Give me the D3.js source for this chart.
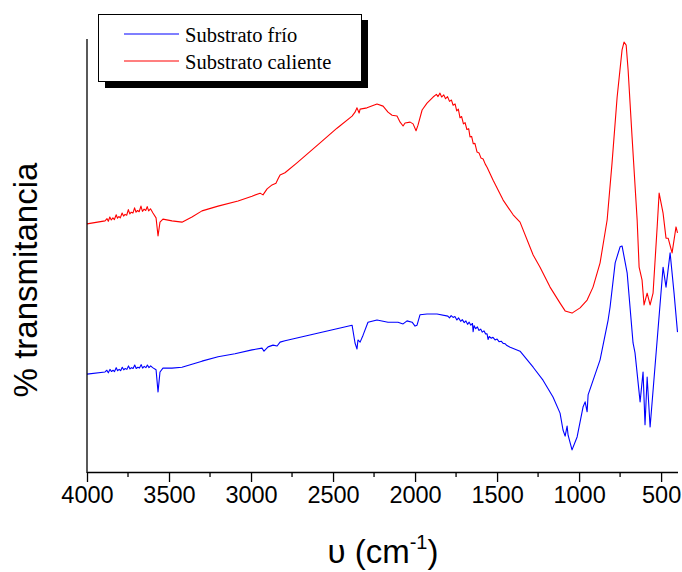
<!DOCTYPE html>
<html><head><meta charset="utf-8">
<script src="https://cdn.jsdelivr.net/npm/d3@7/dist/d3.min.js"></script>
<style>body{margin:0;background:#fff}svg{display:block}</style>
</head><body><svg id="c" width="682" height="572"></svg>
<script>
const seriesNames = ["Substrato frío", "Substrato caliente"];
const seriesColors = ["#0000ff", "#ff0000"];
const xTicks = [4000, 3500, 3000, 2500, 2000, 1500, 1000, 500];
const xMinorTicks = [3750, 3250, 2750, 2250, 1750, 1250, 750];
const xDomain = [4000, 400];
const yDomain = [0, 100];

// [wavenumber, % transmittance (arbitrary offset)]
const coldSeries = [
[4000,22.6],[3890,23.1],[3879,23.5],[3870,22.9],[3860,23.7],[3851,23.2],[3841,23.5],[3832,23.2],[3822,24.1],[3813,23.4],
[3804,23.7],[3795,23.4],[3785,24.2],[3776,23.6],[3767,23.9],[3757,23.7],[3747,24.5],[3738,23.8],[3729,24.1],[3719,23.9],
[3709,24.7],[3700,23.9],[3690,24.2],[3680,24.0],[3670,24.8],[3661,24.0],[3651,24.4],[3641,24.1],[3632,24.7],[3622,24.1],
[3612,24.5],[3600,24.1],[3579,23.6],[3567,18.5],[3555,23.1],[3537,24.0],[3482,24.0],[3421,24.2],
[3360,24.9],[3299,25.6],[3201,26.6],[3098,27.3],[2994,28.2],[2933,28.6],[2921,27.9],[2896,28.9],[2866,29.3],[2841,29.1],
[2823,30.0],[2793,30.3],[2384,33.9],[2366,29.8],[2354,28.4],[2348,30.5],[2335,30.0],[2317,31.6],[2287,34.6],[2232,35.1],
[2165,34.6],[2134,34.6],[2104,34.6],[2073,34.2],[2049,34.9],[2018,34.6],[2000,33.7],[1988,33.9],[1970,36.3],[1927,36.5],
[1866,36.5],[1800,36.0],[1790,35.6],[1780,36.1],[1768,35.7],[1757,35.9],[1745,35.1],[1735,35.6],[1722,34.8],[1712,35.2],
[1700,34.5],[1690,34.9],[1680,34.1],[1670,34.6],[1660,33.9],[1650,34.3],[1646,32.4],[1640,33.8],[1630,33.1],[1620,33.5],
[1610,32.7],[1600,33.0],[1590,32.3],[1580,32.6],[1570,31.9],[1561,31.9],[1555,30.6],[1548,31.3],[1535,30.9],[1525,31.1],
[1512,30.5],[1500,30.7],[1488,30.1],[1475,30.2],[1463,29.7],[1450,29.6],[1440,29.2],[1420,28.8],[1360,27.9],[1280,24.2],
[1220,21.2],[1159,17.3],[1116,13.6],[1098,9.7],[1085,8.3],[1073,10.6],[1067,8.5],[1043,5.1],[1012,8.1],[976,15.0],
[963,16.2],[951,13.9],[945,17.8],[872,25.9],[823,35.1],[811,38.1],[780,48.3],[750,52.0],[738,52.2],[707,46.0],
[671,29.8],[659,27.5],[628,16.2],[610,23.1],[598,10.9],[585,21.9],[567,10.4],[524,30.5],[488,47.3],[470,42.7],
[445,50.6],[421,41.3],[400,32.3]
];
const hotSeries = [
[4000,57.3],[3890,58.0],[3878,58.5],[3870,57.9],[3861,58.9],[3852,58.2],[3842,58.7],[3833,58.3],[3822,59.4],[3814,58.6],
[3806,59.0],[3797,58.7],[3786,59.8],[3777,59.1],[3768,59.5],[3758,59.3],[3748,60.6],[3739,59.6],[3730,60.0],[3720,59.8],
[3710,61.0],[3701,60.0],[3692,60.4],[3682,60.1],[3671,61.4],[3662,60.2],[3652,60.7],[3642,60.4],[3633,61.3],[3624,60.3],
[3613,60.8],[3604,60.2],[3598,59.8],[3579,58.7],[3567,54.5],[3555,57.7],[3537,58.4],[3482,58.0],[3421,57.7],
[3360,58.9],[3299,60.3],[3201,61.4],[3079,62.6],[2994,63.7],[2945,64.4],[2927,64.0],[2902,65.4],[2872,66.3],[2848,66.7],
[2835,67.7],[2823,68.6],[2793,69.1],[2720,71.4],[2579,76.0],[2476,79.4],[2384,82.2],[2366,83.1],[2354,84.1],[2341,82.9],
[2335,83.8],[2293,84.1],[2232,85.0],[2195,84.5],[2165,83.1],[2140,82.4],[2110,82.2],[2091,80.8],[2073,79.9],[2061,80.6],
[2030,80.8],[2012,80.4],[1994,78.8],[1982,80.1],[1957,83.6],[1927,85.2],[1890,86.6],[1870,87.2],[1860,86.7],[1848,87.5],
[1838,86.6],[1825,87.1],[1814,86.2],[1802,86.7],[1790,85.6],[1778,85.9],[1768,84.7],[1756,85.0],[1746,83.4],[1736,83.8],
[1726,81.8],[1716,82.1],[1705,80.4],[1695,80.7],[1684,79.1],[1673,79.3],[1665,77.4],[1655,77.5],[1645,75.8],[1635,75.9],
[1622,73.9],[1610,73.7],[1598,72.5],[1585,72.3],[1572,71.1],[1561,70.4],[1524,67.4],[1463,62.8],[1402,59.4],[1360,57.7],
[1280,50.1],[1238,47.3],[1177,42.7],[1116,39.0],[1085,37.2],[1043,36.7],[994,37.9],[951,39.7],[915,42.7],[872,48.3],
[829,58.2],[799,71.4],[768,86.6],[738,97.5],[726,99.3],[713,98.6],[701,92.8],[677,77.4],[646,58.2],[634,47.3],
[616,44.3],[604,38.6],[585,41.3],[567,38.6],[549,41.3],[524,56.6],[512,64.4],[488,59.8],[470,54.0],[457,54.0],
[433,50.6],[409,56.6],[400,55.2]
];

const svg = d3.select("#c");
const plotLeft = 87, plotRight = 677.5, plotTop = 39, plotBottom = 472;
const x = d3.scaleLinear().domain(xDomain).range([plotLeft, plotRight]);
const y = d3.scaleLinear().domain(yDomain).range([plotBottom, plotTop]);

const line = d3.line().x(d => x(d[0])).y(d => y(d[1]));
[coldSeries, hotSeries].forEach((s, i) => {
  svg.append("path").attr("d", line(s)).attr("fill", "none")
    .attr("stroke", seriesColors[i]).attr("stroke-width", 1.1).attr("stroke-linejoin", "round");
});

// x axis
const xAxis = d3.axisBottom(x).tickValues(xTicks).tickFormat(d3.format("d"))
  .tickSize(10).tickPadding(4).tickSizeOuter(0);
const gx = svg.append("g").attr("transform", `translate(0,${plotBottom})`).call(xAxis);
gx.select(".domain").attr("stroke", "#000").attr("stroke-width", 1.3);
gx.selectAll(".tick line").attr("stroke", "#000").attr("stroke-width", 1.3);
gx.selectAll(".tick text").attr("font-family", "Arial, 'Liberation Sans', sans-serif")
  .attr("font-size", 23.5).attr("fill", "#000").attr("dy", "0.71em");
svg.append("g").attr("transform", `translate(0,${plotBottom})`)
  .selectAll("line").data(xMinorTicks).join("line")
  .attr("x1", d => x(d)).attr("x2", d => x(d)).attr("y1", 0).attr("y2", 5)
  .attr("stroke", "#000").attr("stroke-width", 1.3);

// y axis (no ticks)
svg.append("line").attr("x1", plotLeft).attr("x2", plotLeft).attr("y1", plotTop).attr("y2", plotBottom + 1)
  .attr("stroke", "#000").attr("stroke-width", 1.3);

// axis titles
svg.append("text").attr("transform", "translate(37,280) rotate(-90)")
  .attr("text-anchor", "middle").attr("font-family", "Arial, 'Liberation Sans', sans-serif")
  .attr("font-size", 33).attr("fill", "#000").text("% transmitancia");
const xt = svg.append("text").attr("x", 383).attr("y", 563).attr("text-anchor", "middle")
  .attr("font-family", "Arial, 'Liberation Sans', sans-serif").attr("font-size", 33).attr("fill", "#000");
xt.append("tspan").text("υ (cm");
xt.append("tspan").attr("font-size", 20).attr("dy", -14).text("-1");
xt.append("tspan").attr("dy", 14).text(")");

// legend
const lg = svg.append("g");
lg.append("rect").attr("x", 105).attr("y", 20).attr("width", 263).attr("height", 68).attr("fill", "#000");
lg.append("rect").attr("x", 98.5).attr("y", 14.5).attr("width", 263).attr("height", 67)
  .attr("fill", "#fff").attr("stroke", "#000").attr("stroke-width", 1);
seriesNames.forEach((n, i) => {
  const ly = 34 + i * 27;
  lg.append("line").attr("x1", 124).attr("x2", 179).attr("y1", ly).attr("y2", ly)
    .attr("stroke", seriesColors[i]).attr("stroke-width", 1.1);
  lg.append("text").attr("x", 185).attr("y", ly + 8).attr("font-family", "'Liberation Serif', 'Times New Roman', serif")
    .attr("font-size", 20.5).attr("fill", "#000").text(n);
});
</script></body></html>
